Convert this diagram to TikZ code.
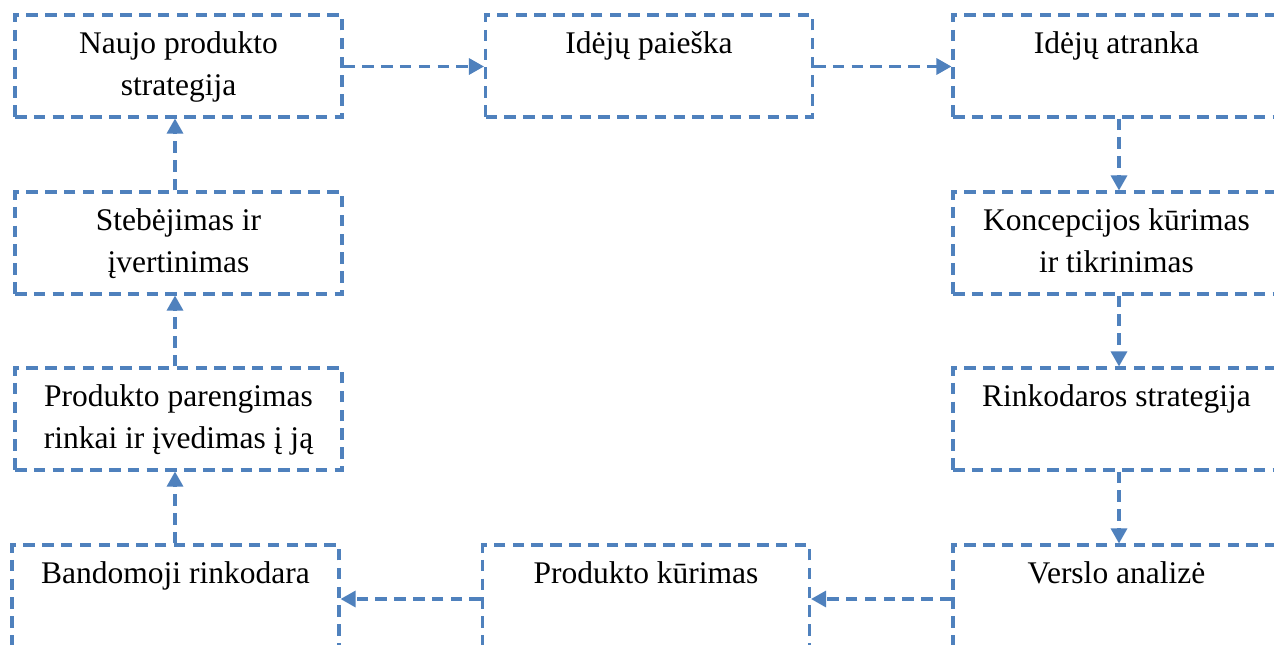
\documentclass[tikz,border=0pt]{standalone}
\usepackage{fontspec}
\setmainfont{Liberation Serif}
\usetikzlibrary{arrows.meta}
\definecolor{boxblue}{HTML}{4F81BD}
\tikzset{
  stage/.style={draw=boxblue, line width=3.1pt, dash pattern=on 11.5pt off 7.3pt,
    rectangle, minimum width=327pt, minimum height=102pt, inner sep=0pt},
  label text/.style={anchor=base, inner sep=0pt,
    font=\fontsize{31.5}{42}\selectfont},
  flow/.style={draw=boxblue, line width=3.1pt, dash pattern=on 11.5pt off 7.3pt,
    -{Triangle[length=15pt,width=16pt]}}
}
\newcommand{\stagetext}[1]{\parbox[t]{325pt}{\centering #1}}
\begin{document}
\begin{tikzpicture}[x=1pt,y=-1pt]
  \useasboundingbox (0,0) rectangle (1274,645);
  \clip (0,0) rectangle (1274,645);
  \fill[white] (0,0) rectangle (1274,645);

  % stage boxes
  \node[stage] (b1)  at (178.5,66)  {};
  \node[stage] (b2)  at (649,66)    {};
  \node[stage] (b3)  at (1116.5,66) {};
  \node[stage] (b4)  at (1116.5,243) {};
  \node[stage] (b5)  at (1116.5,419) {};
  \node[stage] (b6)  at (1116.5,596) {};
  \node[stage] (b7)  at (646,596)   {};
  \node[stage] (b8)  at (175.5,596) {};
  \node[stage] (b9)  at (178.5,419) {};
  \node[stage] (b10) at (178.5,243) {};

  % stage texts, top aligned inside each box
  \node[label text] (t1)  at ([yshift=-40pt]b1.north)  {\stagetext{Naujo produkto\\strategija}};
  \node[label text] (t2)  at ([yshift=-40pt]b2.north)  {\stagetext{Idėjų paieška}};
  \node[label text] (t3)  at ([yshift=-40pt]b3.north)  {\stagetext{Idėjų atranka}};
  \node[label text] (t4)  at ([yshift=-40pt]b4.north)  {\stagetext{Koncepcijos kūrimas\\ir tikrinimas}};
  \node[label text] (t5)  at ([yshift=-40pt]b5.north)  {\stagetext{Rinkodaros strategija}};
  \node[label text] (t6)  at ([yshift=-40pt]b6.north)  {\stagetext{Verslo analizė}};
  \node[label text] (t7)  at ([yshift=-40pt]b7.north)  {\stagetext{Produkto kūrimas}};
  \node[label text] (t8)  at ([yshift=-40pt]b8.north)  {\stagetext{Bandomoji rinkodara}};
  \node[label text] (t9)  at ([yshift=-40pt]b9.north)  {\stagetext{Produkto parengimas\\rinkai ir įvedimas į ją}};
  \node[label text] (t10) at ([yshift=-40pt]b10.north) {\stagetext{Stebėjimas ir\\įvertinimas}};

  % flow between stages
  \draw[flow] ([yshift=-0.5pt]b1.east) -- ([yshift=-0.5pt]b2.west);
  \draw[flow] ([yshift=-0.5pt]b2.east) -- ([yshift=-0.5pt]b3.west);
  \draw[flow] ([xshift=2.5pt]b3.south) -- ([xshift=2.5pt]b4.north);
  \draw[flow] ([xshift=2.5pt]b4.south) -- ([xshift=2.5pt]b5.north);
  \draw[flow] ([xshift=2.5pt]b5.south) -- ([xshift=2.5pt]b6.north);
  \draw[flow] ([yshift=-3pt]b6.west) -- ([yshift=-3pt]b7.east);
  \draw[flow] ([yshift=-3pt]b7.west) -- ([yshift=-3pt]b8.east);
  \draw[flow] ([xshift=-0.5pt]b8.north) -- ([xshift=-3.5pt]b9.south);
  \draw[flow] ([xshift=-3.5pt]b9.north) -- ([xshift=-3.5pt]b10.south);
  \draw[flow] ([xshift=-3.5pt]b10.north) -- ([xshift=-3.5pt]b1.south);
\end{tikzpicture}
\end{document}
